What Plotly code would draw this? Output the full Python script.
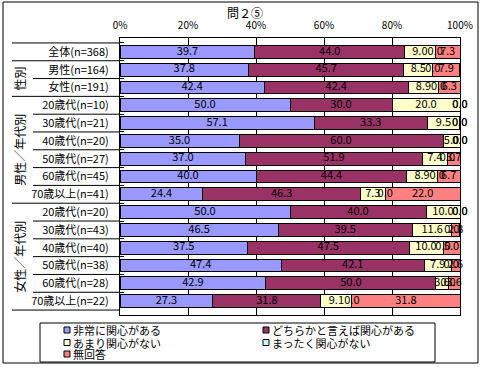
import plotly.graph_objects as go

categories = ["全体(n=368)", "男性(n=164)", "女性(n=191)",
              "20歳代(n=10)", "30歳代(n=21)", "40歳代(n=20)", "50歳代(n=27)",
              "60歳代(n=45)", "70歳以上(n=41)",
              "20歳代(n=20)", "30歳代(n=43)", "40歳代(n=40)", "50歳代(n=38)",
              "60歳代(n=28)", "70歳以上(n=22)"]

very_interested = [39.7, 37.8, 42.4, 50.0, 57.1, 35.0, 37.0, 40.0, 24.4,
                   50.0, 46.5, 37.5, 47.4, 42.9, 27.3]
somewhat_interested = [44.0, 45.7, 42.4, 30.0, 33.3, 60.0, 51.9, 44.4, 46.3,
                       40.0, 39.5, 47.5, 42.1, 50.0, 31.8]
not_very_interested = [9.0, 8.5, 8.9, 20.0, 9.5, 5.0, 7.4, 8.9, 7.3,
                       10.0, 11.6, 10.0, 7.9, 3.6, 9.1]
not_interested = [0.0, 0.0, 0.0, 0.0, 0.0, 0.0, 0.0, 0.0, 0.0,
                  0.0, 0.0, 0.0, 0.0, 0.0, 0.0]
no_answer = [7.3, 7.9, 6.3, 0.0, 0.0, 0.0, 3.7, 6.7, 22.0,
             0.0, 2.3, 5.0, 2.6, 3.6, 31.8]

series_names = ["非常に関心がある", "どちらかと言えば関心がある", "あまり関心がない",
                "まったく関心がない", "無回答"]
series_values = [very_interested, somewhat_interested, not_very_interested,
                 not_interested, no_answer]
colors = ["#9999FF", "#993366", "#FFFFCC", "#CCFFFF", "#FF8080"]

group_labels = ["性別", "男性／年代別", "女性／年代別"]
group_centers = [1.5, 5.5, 11.5]
group_bounds = [-0.5, 0.5, 2.5, 8.5, 14.5]

x_tickvals = [0, 20, 40, 60, 80, 100]
x_ticktext = ["0%", "20%", "40%", "60%", "80%", "100%"]

title_text = "問２⑤"

FONT = "Noto Sans CJK JP"

fig = go.Figure()
for name, vals, col in zip(series_names, series_values, colors):
    fig.add_trace(go.Bar(
        y=categories, x=vals, name=name, orientation="h",
        marker=dict(color=col, line=dict(color="black", width=1)),
        hoverinfo="x+name", showlegend=False,
    ))

# data labels (including 0.0 labels as in original)
lab_x, lab_y, lab_t = [], [], []
cum = [0.0] * len(categories)
for vals in series_values:
    for i, v in enumerate(vals):
        lab_x.append(cum[i] + v / 2)
        lab_y.append(categories[i])
        lab_t.append(f"{v:.1f}")
        cum[i] += v
fig.add_trace(go.Scatter(
    x=lab_x, y=lab_y, text=lab_t, mode="text",
    textfont=dict(family=FONT, size=11, color="black"),
    textposition="middle center", showlegend=False, hoverinfo="skip",
    cliponaxis=False,
))

# pixel -> paper helpers (plot area x:120..460, y:38..315)
L, R, T, B = 120, 460, 38, 315
def px(x):
    return (x - L) / (R - L)
def py(y):
    return 1 - (y - T) / (B - T)

shapes = []
# outer border
shapes.append(dict(type="rect", xref="paper", yref="paper",
                   x0=px(3), x1=px(478), y0=py(2), y1=py(363),
                   line=dict(color="black", width=1), fillcolor="rgba(0,0,0,0)"))
# separator lines at left
for k in range(len(categories) + 1):
    yv = k - 0.5
    xs = 12 if yv in group_bounds else 33
    shapes.append(dict(type="line", xref="paper", yref="y",
                       x0=px(xs), x1=0, y0=yv, y1=yv,
                       line=dict(color="black", width=1)))
# legend box
shapes.append(dict(type="rect", xref="paper", yref="paper",
                   x0=px(40), x1=px(435), y0=py(323), y1=py(362),
                   line=dict(color="black", width=1), fillcolor="white"))

annotations = []
annotations.append(dict(text=title_text, xref="paper", yref="paper",
                        x=px(245), y=py(12), xanchor="center", yanchor="middle",
                        showarrow=False,
                        font=dict(family=FONT, size=12, color="black")))
for g, c in zip(group_labels, group_centers):
    annotations.append(dict(text=g, xref="paper", yref="y", x=px(20), y=c,
                            xanchor="center", yanchor="middle",
                            textangle=-90, showarrow=False,
                            font=dict(family=FONT, size=12, color="black")))

# legend entries
leg_pos = [(64, 330), (263, 330), (64, 342.5), (263, 342.5), (64, 354)]
for (lx, ly), name, col in zip(leg_pos, series_names, colors):
    shapes.append(dict(type="rect", xref="paper", yref="paper",
                       x0=px(lx), x1=px(lx + 6), y0=py(ly - 3), y1=py(ly + 3),
                       line=dict(color="black", width=1), fillcolor=col))
    annotations.append(dict(text=name, xref="paper", yref="paper",
                            x=px(lx + 8), y=py(ly), xanchor="left", yanchor="middle",
                            showarrow=False, borderpad=0,
                            font=dict(family=FONT, size=11, color="black")))

fig.update_layout(
    template="none",
    width=482, height=367,
    margin=dict(l=L, r=482 - R, t=T, b=367 - B, pad=0, autoexpand=False),
    barmode="stack", bargap=0.28,
    paper_bgcolor="white", plot_bgcolor="white",
    showlegend=False,
    font=dict(family=FONT, size=11, color="black"),
    shapes=shapes, annotations=annotations,
    xaxis=dict(range=[0, 100], side="top", tickvals=x_tickvals, ticktext=x_ticktext,
               showgrid=True, gridcolor="black", gridwidth=1,
               showline=True, linecolor="black", linewidth=1, mirror=True,
               ticks="", zeroline=False, ticklabelstandoff=4, automargin=False,
               tickfont=dict(family=FONT, size=10, color="black"), fixedrange=True),
    yaxis=dict(categoryorder="array", categoryarray=categories, autorange="reversed",
               showline=True, linecolor="black", linewidth=1, mirror=True,
               ticks="inside", ticklen=4, tickcolor="black", tickson="boundaries",
               showgrid=False, ticklabelstandoff=8, automargin=False,
               tickfont=dict(family=FONT, size=11, color="black"), fixedrange=True),
)

fig.write_html("out.html", config={"displayModeBar": False},
               post_script="document.body.style.margin='0';document.body.style.overflow='hidden';")
